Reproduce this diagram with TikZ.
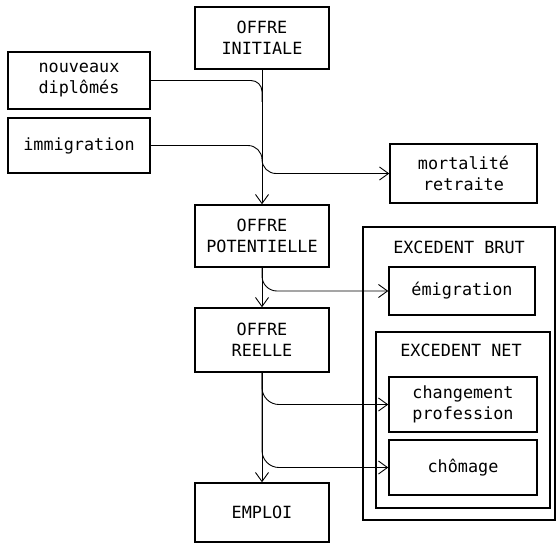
\documentclass[tikz,border=0pt]{standalone}
\usepackage{fontspec}
\setmonofont{DejaVu Sans Mono}
\usetikzlibrary{arrows.meta,calc}
\tikzset{
  boxnode/.style={draw, line width=1.5pt, inner sep=0pt, align=center,
    font=\ttfamily\fontsize{16.8}{21}\selectfont},
  lbl/.style={inner sep=0pt, font=\ttfamily\fontsize{16.8}{21}\selectfont},
  conn/.style={line width=0.9pt},
  arr/.style={conn, -{Straight Barb[length=9pt,width=13pt,line width=0.9pt]}}
}
\begin{document}
\begin{tikzpicture}[x=1pt,y=-1pt]
\useasboundingbox (0,0) rectangle (556,543);
% main column
\node[boxnode, minimum width=134pt, minimum height=62pt] (ini) at (262,38) {OFFRE\\INITIALE};
\node[boxnode, minimum width=134pt, minimum height=62pt] (pot) at (262,236) {OFFRE\\POTENTIELLE};
\node[boxnode, minimum width=134pt, minimum height=64pt] (reel) at (262,340) {OFFRE\\REELLE};
\node[boxnode, minimum width=134pt, minimum height=59pt] (emp) at (262,512.5) {EMPLOI};
% left inputs
\node[boxnode, minimum width=142pt, minimum height=57pt] (nd) at (79,80.5) {nouveaux\\diplômés};
\node[boxnode, minimum width=142pt, minimum height=55pt] (imm) at (79,145.5) {immigration};
% right outputs
\node[boxnode, minimum width=147pt, minimum height=59pt] (mort) at (463.5,173.5) {mortalité\\retraite};
\node[boxnode, minimum width=192pt, minimum height=293pt] (brut) at (459,373.5) {};
\node[lbl] (brutlbl) at (459,247) {EXCEDENT BRUT};
\node[boxnode, minimum width=146pt, minimum height=48pt] (emig) at (462,291) {émigration};
\node[boxnode, minimum width=174pt, minimum height=176pt] (net) at (463,420) {};
\node[lbl] (netlbl) at (461,350) {EXCEDENT NET};
\node[boxnode, minimum width=148pt, minimum height=55pt] (chg) at (463,404.5) {changement\\profession};
\node[boxnode, minimum width=148pt, minimum height=55pt] (cho) at (463,467.5) {chômage};
% connectors
\coordinate (j1) at ($(ini.south)+(0,32)$);
\draw[arr] (ini.south) -- (pot.north);
\draw[arr] (pot.south) -- (reel.north);
\draw[arr] (reel.south) -- (emp.north);
\draw[conn, rounded corners=11pt] (nd.east) -| (j1);
\draw[arr, rounded corners=14pt] (imm.east) -| (ini.south |- mort.west) -- (mort.west);
\draw[arr, rounded corners=15pt] (pot.south) |- (emig.west);
\draw[arr, rounded corners=17pt] (reel.south) |- (chg.west);
\draw[arr, rounded corners=17pt] (reel.south) |- (cho.west);
\end{tikzpicture}
\end{document}
